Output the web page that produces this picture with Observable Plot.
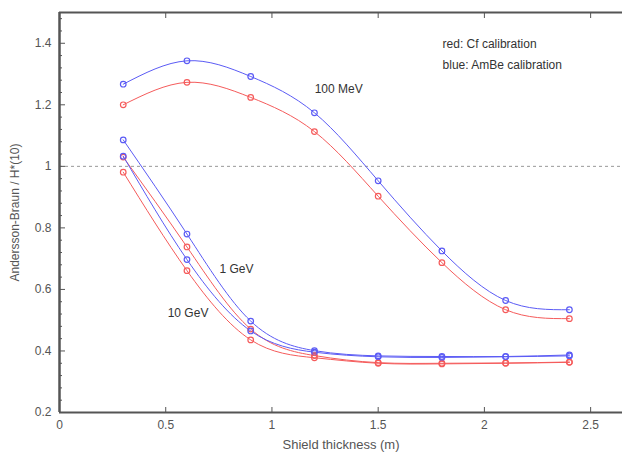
<!DOCTYPE html>
<html><head><meta charset="utf-8">
<script src="https://cdn.jsdelivr.net/npm/d3@7"></script>
<script src="https://cdn.jsdelivr.net/npm/@observablehq/plot@0.6"></script>
<style>body{margin:0;background:#fff;} #chart svg{display:block;}</style>
</head><body><div id="chart"></div>
<script>
// Shield thickness (m)
const thickness = [0.3, 0.6, 0.9, 1.2, 1.5, 1.8, 2.1, 2.4];
// Andersson-Braun / H*(10)
const mev100Blue = [1.267, 1.343, 1.292, 1.174, 0.953, 0.725, 0.564, 0.534];
const mev100Red  = [1.200, 1.273, 1.224, 1.113, 0.903, 0.687, 0.534, 0.505];
const gev1Blue   = [1.086, 0.780, 0.497, 0.401, 0.384, 0.382, 0.382, 0.387];
const gev1Red    = [1.030, 0.738, 0.471, 0.385, 0.362, 0.360, 0.361, 0.364];
const gev10Blue  = [1.033, 0.697, 0.465, 0.396, 0.381, 0.379, 0.381, 0.384];
const gev10Red   = [0.981, 0.661, 0.436, 0.378, 0.360, 0.358, 0.360, 0.363];
const seriesNames = ["100 MeV blue", "100 MeV red", "1 GeV blue", "1 GeV red", "10 GeV blue", "10 GeV red"];
const seriesValues = [mev100Blue, mev100Red, gev1Blue, gev1Red, gev10Blue, gev10Red];
const seriesCalib = ["AmBe", "Cf", "AmBe", "Cf", "AmBe", "Cf"];
// annotations
const energyLabels = ["100 MeV", "1 GeV", "10 GeV"];
const energyLabelX = [1.314, 0.833, 0.605];
const energyLabelY = [1.251, 0.667, 0.523];
const legendLines = ["red: Cf calibration", "blue: AmBe calibration"];
const legendX = [1.803, 1.803];
const legendY = [1.397, 1.329];
const referenceLevel = [1];
const xDomain = [0, 2.65];
const yDomain = [0.2, 1.5];
const yMajorTicks = [0.2, 0.4, 0.6, 0.8, 1, 1.2, 1.4];
const xMajorTicks = [0, 0.5, 1, 1.5, 2, 2.5];

const rows = [];
seriesNames.forEach((name, s) => {
  thickness.forEach((t, i) => rows.push({series: name, calib: seriesCalib[s], x: t, y: seriesValues[s][i]}));
});
const yMinor = d3.range(0.24, 1.5, 0.04).map(v => +v.toFixed(2)).filter(v => !yMajorTicks.includes(v));

const colorFor = c => c === "AmBe" ? "#5b5bf5" : "#f55b5b";
const axisCol = "#555";

const chart = Plot.plot({
  width: 622,
  height: 452,
  marginLeft: 59,
  marginRight: 0,
  marginTop: 12,
  marginBottom: 40,
  style: {fontFamily: "'Liberation Sans', Arial, sans-serif", fontSize: "12px", color: "#444", background: "#fff"},
  x: {domain: xDomain},
  y: {domain: yDomain},
  marks: [
    Plot.ruleY(referenceLevel, {stroke: "#999", strokeDasharray: "3,3", strokeWidth: 1}),
    Plot.line(rows, {x: "x", y: "y", z: "series", stroke: d => colorFor(d.calib), curve: "natural", strokeWidth: 1}),
    Plot.dot(rows, {x: "x", y: "y", stroke: d => colorFor(d.calib), r: 2.8, strokeWidth: 1.2, fill: "none"}),
    // labels
    Plot.axisY(yMajorTicks, {tickSize: 0, tickPadding: 8, fill: "#555", fontSize: 12,
      label: "Andersson-Braun / H*(10)", labelAnchor: "center", labelArrow: "none", labelOffset: 49, tickFormat: d => String(d)}),
    Plot.axisX(xMajorTicks, {tickSize: 0, tickPadding: 8, fill: "#555", fontSize: 12,
      label: "Shield thickness (m)", labelAnchor: "center", labelArrow: "none", labelOffset: 36, tickFormat: d => String(d)}),
    // inward ticks
    Plot.axisY(yMajorTicks, {tickSize: 6, dx: 6, stroke: axisCol, text: null, label: null}),
    Plot.axisY(yMinor, {tickSize: 3, dx: 3, stroke: axisCol, text: null, label: null}),
    Plot.axisX(xMajorTicks, {tickSize: 5, dy: -5, stroke: axisCol, text: null, label: null}),
    Plot.axisX(xMajorTicks, {anchor: "top", tickSize: 5, dy: 5, stroke: axisCol, text: null, label: null}),
    // frame lines
    Plot.ruleX([xDomain[0]], {stroke: axisCol, strokeWidth: 2.5}),
    Plot.ruleY(yDomain, {stroke: axisCol, strokeWidth: 2}),
    Plot.text(energyLabels, {x: (d, i) => energyLabelX[i], y: (d, i) => energyLabelY[i], text: d => d, fill: "#333", fontSize: 12}),
    Plot.text(legendLines, {x: (d, i) => legendX[i], y: (d, i) => legendY[i], text: d => d, fill: "#333", fontSize: 12, textAnchor: "start"})
  ]
});
// axis label font sizes
chart.querySelectorAll("g[aria-label='x-axis label'] text").forEach(t => t.setAttribute("font-size", "13"));
document.getElementById("chart").appendChild(chart);
</script>
</body></html>
